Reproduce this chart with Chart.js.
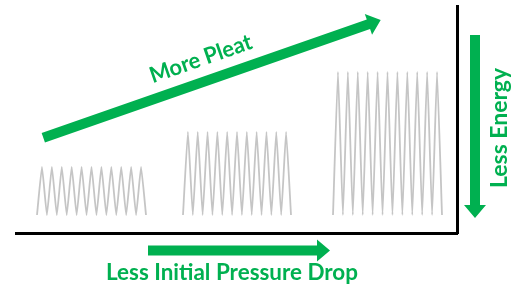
<!DOCTYPE html>
<html>
<head>
<meta charset="utf-8">
<script src="https://cdn.jsdelivr.net/npm/chart.js@4.4.1/dist/chart.umd.min.js"></script>
<style>
  html, body { margin: 0; padding: 0; background: #ffffff; }
  #wrap { width: 517px; height: 285px; }
</style>
</head>
<body>
<div id="wrap"><canvas id="c" width="517" height="285"></canvas></div>
<script>
// ---- Data (axis units: x from left end of baseline, y above baseline) ----
const groups      = ['Low pleat', 'Medium pleat', 'High pleat'];
const pleatCounts = [11, 11, 11];
const groupStart  = [21, 167, 317];
const groupEnd    = [130, 275, 426];
const pleatBase   = [18, 18, 18];
const pleatTop    = [66, 101, 161];

// arrows: [x0, y0, x1, y1]
const arrowNames  = ['More Pleat', 'Less Initial Pressure Drop', 'Less Energy'];
const arrowFrom   = [[27.3, 95.2], [132, -17.5], [459, 198]];
const arrowTo     = [[364.7, 213], [314, -17.5], [459, 15]];

// labels: text, baseline start [x, y], length along text
const labelTexts  = ['More Pleat', 'Less Initial Pressure Drop', 'Less Energy'];
const labelStart  = [[136.7, 149.7], [90, -47], [490.7, 45]];
const labelLength = [107, 252, 120];

const GREEN = '#00b050';

function zigzag(i) {
  const pts = [];
  const n = pleatCounts[i];
  const w = (groupEnd[i] - groupStart[i]) / n;
  for (let k = 0; k < n; k++) {
    pts.push({ x: groupStart[i] + k * w, y: pleatBase[i] });
    pts.push({ x: groupStart[i] + (k + 0.5) * w, y: pleatTop[i] });
  }
  pts.push({ x: groupEnd[i], y: pleatBase[i] });
  return pts;
}

const datasets = groups.map((g, i) => ({
  label: g,
  data: zigzag(i),
  showLine: true,
  borderColor: 'rgba(150,150,150,0.55)',
  borderWidth: 1.8,
  pointRadius: 0,
  tension: 0.12
}));

const annot = {
  id: 'annot',
  afterDraw(chart) {
    const ctx = chart.ctx;
    const sx = chart.scales.x, sy = chart.scales.y;
    const px = v => sx.getPixelForValue(v);
    const py = v => sy.getPixelForValue(v);

    // arrows
    arrowFrom.forEach((f, i) => {
      const x0 = px(f[0]), y0 = py(f[1]);
      const x1 = px(arrowTo[i][0]), y1 = py(arrowTo[i][1]);
      const dx = x1 - x0, dy = y1 - y0;
      const L = Math.hypot(dx, dy);
      const ux = dx / L, uy = dy / L;
      const nx = -uy, ny = ux;
      const sw = 5, hl = 13, hw = 11;
      const bx = x1 - ux * hl, by = y1 - uy * hl;
      ctx.save();
      ctx.fillStyle = GREEN;
      ctx.beginPath();
      ctx.moveTo(x0 + nx * sw, y0 + ny * sw);
      ctx.lineTo(bx + nx * sw, by + ny * sw);
      ctx.lineTo(bx + nx * hw, by + ny * hw);
      ctx.lineTo(x1, y1);
      ctx.lineTo(bx - nx * hw, by - ny * hw);
      ctx.lineTo(bx - nx * sw, by - ny * sw);
      ctx.lineTo(x0 - nx * sw, y0 - ny * sw);
      ctx.closePath();
      ctx.fill();
      ctx.restore();
    });

    // labels
    const capH = 16;
    const fs = capH / 0.72;
    const angles = [
      Math.atan2(py(arrowTo[0][1]) - py(arrowFrom[0][1]), px(arrowTo[0][0]) - px(arrowFrom[0][0])),
      0,
      -Math.PI / 2
    ];
    labelTexts.forEach((t, i) => {
      ctx.save();
      ctx.fillStyle = GREEN;
      ctx.font = 'bold ' + fs + 'px Lato, "Open Sans", sans-serif';
      ctx.textBaseline = 'alphabetic';
      ctx.textAlign = 'left';
      const m = ctx.measureText(t).width;
      ctx.translate(px(labelStart[i][0]), py(labelStart[i][1]));
      ctx.rotate(angles[i]);
      ctx.scale(labelLength[i] / m, 1);
      ctx.fillText(t, 0, 0);
      ctx.restore();
    });
  }
};

new Chart(document.getElementById('c'), {
  type: 'scatter',
  data: { datasets },
  options: {
    responsive: false,
    animation: false,
    layout: { padding: { left: 16, right: 60, top: 6, bottom: 52 } },
    plugins: { legend: { display: false }, tooltip: { enabled: false } },
    scales: {
      x: {
        type: 'linear', min: 0, max: 441,
        grid: { display: false, drawTicks: false },
        ticks: { display: false },
        border: { display: true, color: '#000000', width: 3 }
      },
      y: {
        type: 'linear', position: 'right', min: 0, max: 227,
        grid: { display: false, drawTicks: false },
        ticks: { display: false },
        border: { display: true, color: '#000000', width: 3 }
      }
    }
  },
  plugins: [annot]
});
</script>
</body>
</html>
